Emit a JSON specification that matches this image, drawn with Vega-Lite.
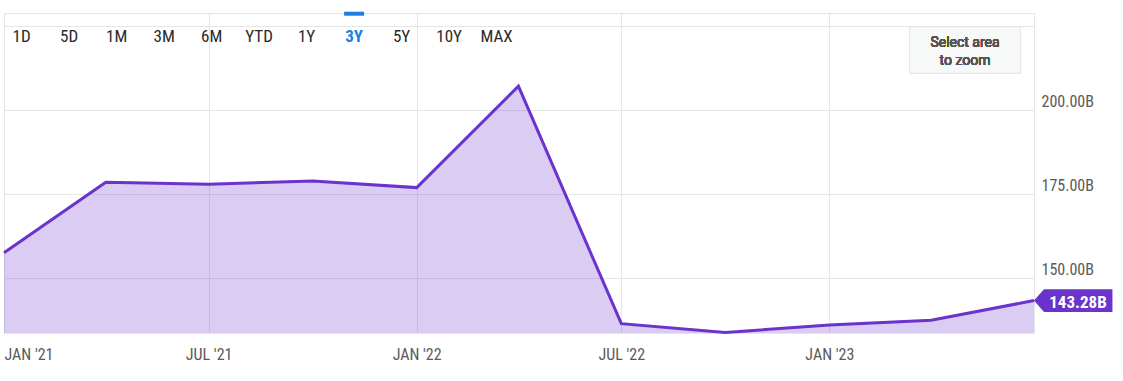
{
  "$schema": "https://vega.github.io/schema/vega-lite/v6.json",
  "width": 1030,
  "height": 320,
  "autosize": {"type": "none"},
  "padding": {"left": 4, "top": 13, "right": 89, "bottom": 48},
  "background": "#ffffff",
  "config": {
    "font": "Roboto Condensed, Liberation Sans Narrow, DejaVu Sans Condensed, Roboto",
    "view": {"stroke": "#e6e6e6", "strokeWidth": 1},
    "axis": {
      "gridColor": "#e6e6e6",
      "gridWidth": 1,
      "domain": false,
      "ticks": false,
      "tickSize": 0,
      "title": null,
      "labelFontSize": 16,
      "labelColor": "#5a5a5a",
      "labelFont": "Roboto Condensed, Liberation Sans Narrow, DejaVu Sans Condensed, Roboto"
    }
  },
  "datasets": {
    "rev": [
      {"date": "2021-01-01", "value": 157.5},
      {"date": "2021-04-01", "value": 178.5},
      {"date": "2021-07-01", "value": 177.9},
      {"date": "2021-10-01", "value": 178.9},
      {"date": "2022-01-01", "value": 176.9},
      {"date": "2022-04-01", "value": 207.1},
      {"date": "2022-07-01", "value": 136.4},
      {"date": "2022-10-01", "value": 133.8},
      {"date": "2023-01-01", "value": 136.0},
      {"date": "2023-04-01", "value": 137.4},
      {"date": "2023-07-01", "value": 143.28}
    ],
    "buttons": [
      {"btn": "1D"}, {"btn": "5D"}, {"btn": "1M"}, {"btn": "3M"}, {"btn": "6M"},
      {"btn": "YTD"}, {"btn": "1Y"}, {"btn": "3Y"}, {"btn": "5Y"}, {"btn": "10Y"}, {"btn": "MAX"}
    ]
  },
  "layer": [
    {
      "data": {"name": "rev"},
      "encoding": {
        "x": {
          "field": "date",
          "type": "temporal",
          "scale": {
            "type": "utc",
            "domain": [
              {"year": 2021, "month": 1, "date": 1, "utc": true},
              {"year": 2023, "month": 7, "date": 1, "utc": true}
            ]
          },
          "axis": {
            "values": [
              {"year": 2021, "month": 1, "date": 1, "utc": true},
              {"year": 2021, "month": 7, "date": 1, "utc": true},
              {"year": 2022, "month": 1, "date": 1, "utc": true},
              {"year": 2022, "month": 7, "date": 1, "utc": true},
              {"year": 2023, "month": 1, "date": 1, "utc": true}
            ],
            "labelExpr": "upper(utcFormat(datum.value, \"%b '%y\"))",
            "labelFlush": true,
            "labelPadding": 13,
            "grid": true
          }
        },
        "y": {
          "field": "value",
          "type": "quantitative",
          "scale": {"domain": [133.63, 228.87], "zero": false, "nice": false},
          "axis": {
            "orient": "right",
            "values": [150, 175, 200, 225],
            "labelExpr": "datum.value == 225 ? '' : format(datum.value, '.2f') + 'B'",
            "labelAlign": "left",
            "labelBaseline": "alphabetic",
            "labelOffset": -3.5,
            "labelPadding": 7,
            "grid": true
          }
        }
      },
      "layer": [
        {"mark": {"type": "area", "color": "#6a33cc", "opacity": 0.25, "clip": true}},
        {"mark": {"type": "line", "color": "#6a33cc", "strokeWidth": 3}},
        {
          "transform": [{"filter": "datum.value == 143.28"}],
          "mark": {
            "type": "point",
            "shape": "M0,0L0.885,-1L6.94,-1L6.94,1L0.885,1Z",
            "size": 511,
            "filled": true,
            "color": "#6a33cc",
            "opacity": 1,
            "strokeWidth": 0
          }
        },
        {
          "transform": [{"filter": "datum.value == 143.28"}],
          "mark": {
            "type": "text",
            "align": "center",
            "baseline": "alphabetic",
            "dx": 44,
            "dy": 7.7,
            "fontSize": 17,
            "fontWeight": "bold",
            "color": "#ffffff"
          },
          "encoding": {"text": {"value": "143.28B"}}
        },
        {
          "mark": {"type": "rect", "fill": "#f7f8f8", "stroke": "#e6e6e6", "strokeWidth": 1},
          "encoding": {
            "x": {"datum": {"year": 2023, "month": 3, "date": 13, "utc": true}, "type": "temporal"},
            "x2": {"datum": {"year": 2023, "month": 6, "date": 19, "utc": true}},
            "y": {"datum": 224.79, "type": "quantitative"},
            "y2": {"datum": 210.92}
          }
        },
        {
          "mark": {
            "type": "text",
            "align": "center",
            "baseline": "alphabetic",
            "lineHeight": 18,
            "fontSize": 14,
            "font": "Roboto",
            "fontWeight": "normal",
            "color": "#555555"
          },
          "encoding": {
            "x": {"datum": {"year": 2023, "month": 5, "date": 1, "utc": true}, "type": "temporal"},
            "y": {"datum": 218.66, "type": "quantitative"},
            "text": {"value": ["Select area", "to zoom"]}
          }
        }
      ]
    },
    {
      "data": {"name": "buttons"},
      "encoding": {
        "x": {
          "field": "btn",
          "type": "ordinal",
          "scale": {
            "type": "point",
            "padding": 0,
            "domain": ["1D", "5D", "1M", "3M", "6M", "YTD", "1Y", "3Y", "5Y", "10Y", "MAX"],
            "range": [17.6, 492.6]
          },
          "axis": null
        }
      },
      "layer": [
        {
          "transform": [{"filter": "datum.btn !== '3Y'"}],
          "mark": {"type": "text", "align": "center", "baseline": "alphabetic", "fontSize": 17, "color": "#2a2a2a"},
          "encoding": {
            "y": {"datum": 220.33, "type": "quantitative"},
            "text": {"field": "btn"}
          }
        },
        {
          "transform": [{"filter": "datum.btn === '3Y'"}],
          "mark": {"type": "text", "align": "center", "baseline": "alphabetic", "fontSize": 17, "fontWeight": "bold", "color": "#1c7fe0"},
          "encoding": {
            "y": {"datum": 220.33, "type": "quantitative"},
            "text": {"field": "btn"}
          }
        },
        {
          "transform": [{"filter": "datum.btn === '3Y'"}],
          "mark": {
            "type": "point",
            "shape": "M-1,-0.2L1,-0.2L1,0.2L-1,0.2Z",
            "size": 400,
            "filled": true,
            "color": "#1c7fe0",
            "opacity": 1,
            "strokeWidth": 0
          },
          "encoding": {"y": {"datum": 228.66, "type": "quantitative"}}
        }
      ]
    }
  ],
  "resolve": {"scale": {"x": "independent"}}
}
